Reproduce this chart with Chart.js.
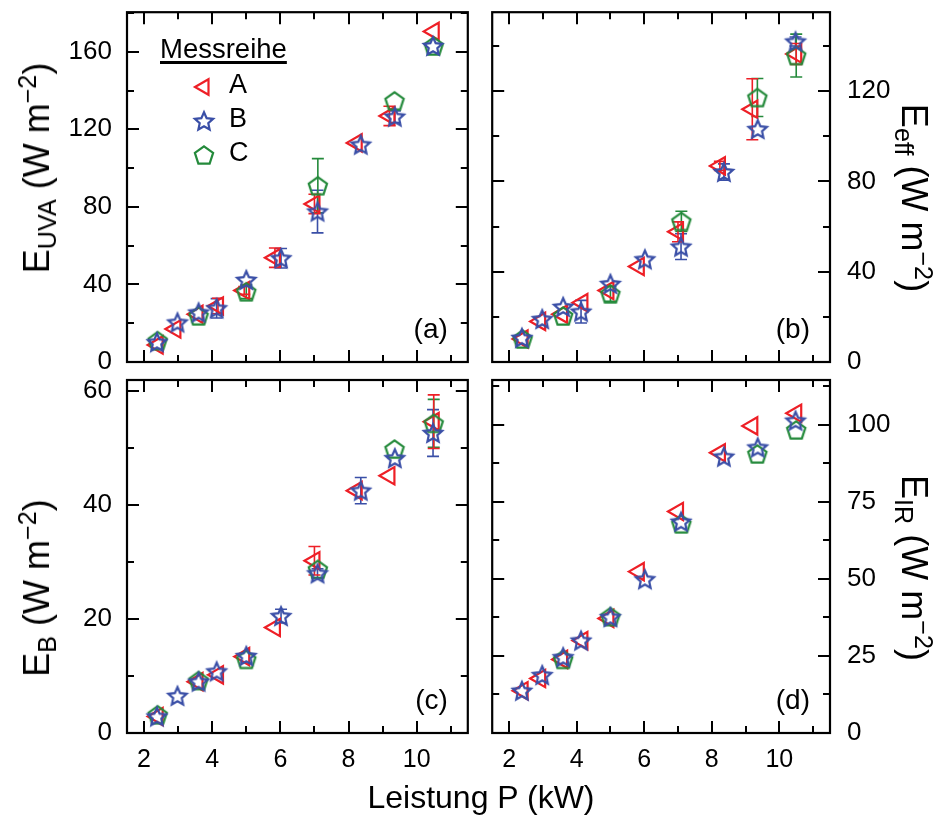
<!DOCTYPE html>
<html>
<head>
<meta charset="utf-8">
<script src="https://cdn.jsdelivr.net/npm/chart.js@4.4.1/dist/chart.umd.min.js"></script>
<style>
html,body{margin:0;padding:0;background:#fff;}
#wrap{position:relative;width:943px;height:825px;overflow:hidden;font-family:'Liberation Sans',Arial,Helvetica,sans-serif;color:#000;}
canvas{position:absolute;}
.yt{position:absolute;white-space:nowrap;font-size:36px;line-height:1;}
.yt sub{font-size:0.7em;vertical-align:-0.28em;line-height:0;}
.yt sup{font-size:0.7em;vertical-align:0.5em;line-height:0;}
.left{transform:translate(-50%,-50%) rotate(-90deg);}
.right{transform:translate(-50%,-50%) rotate(90deg);}
.xt{position:absolute;left:481px;top:781px;transform:translateX(-50%);font-size:32px;line-height:1;white-space:nowrap;}
</style>
</head>
<body>
<div id="wrap">
  <canvas id="cA" width="480" height="376" style="left:0;top:0"></canvas>
  <canvas id="cB" width="463" height="376" style="left:480px;top:0"></canvas>
  <canvas id="cC" width="480" height="434" style="left:0;top:366px"></canvas>
  <canvas id="cD" width="463" height="434" style="left:480px;top:366px"></canvas>
  <div class="yt left" style="left:37px;top:168px">E<sub>UVA</sub> (W m<sup>−2</sup>)</div>
  <div class="yt left" style="left:37px;top:588px">E<sub>B</sub> (W m<sup>−2</sup>)</div>
  <div class="yt right" style="left:914px;top:198px">E<sub>eff</sub> (W m<sup>−2</sup>)</div>
  <div class="yt right" style="left:914px;top:568px">E<sub>IR</sub> (W m<sup>−2</sup>)</div>
  <div class="xt">Leistung P (kW)</div>
</div>
<script>
// ---------- data ----------
const seriesNames = ['A', 'B', 'C'];
const legendTitle = 'Messreihe';

const powerA = [2.40, 2.92, 3.57, 4.17, 4.94, 5.84, 7.00, 8.24, 9.20, 10.50];
const powerB = [2.38, 2.98, 3.60, 4.13, 5.00, 6.02, 7.09, 8.36, 9.36, 10.48];
const powerC = [2.40, 3.60, 5.00, 7.10, 9.35, 10.50];

// (a) E_UVA
const uvaA = [8.8, 17.0, 24.6, 28.9, 36.9, 53.8, 81.5, 113.0, 126.9, 170.5];
const uvaB = [10.2, 20.4, 25.5, 27.7, 42.3, 53.5, 77.6, 112.1, 126.5, 163.0];
const uvaC = [11.0, 23.8, 36.2, 90.9, 134.7, 163.0];
const uvaErrA = [0, 0, 0, 4, 2, 5, 5, 0, 5, 0];
const uvaErrB = [0, 0, 0, 5, 0, 5, 11, 0, 3, 0];
const uvaErrC = [0, 0, 3.5, 14, 0, 0];

// (b) E_eff
const effA = [10.2, 18.0, 21.2, 26.3, 31.7, 42.3, 57.7, 86.9, 112.0, 136.5];
const effB = [10.7, 19.0, 24.4, 22.3, 34.6, 45.5, 51.1, 84.2, 103.2, 142.0];
const effC = [10.2, 20.4, 30.2, 62.3, 117.2, 135.8];
const effErrA = [0, 0, 0, 0, 0, 0, 4.4, 2, 13.5, 4.6];
const effErrB = [0, 0, 0, 5, 0, 0, 5.7, 3.6, 0, 2];
const effErrC = [0, 0, 3.3, 4.5, 8.4, 9.5];

// (c) E_B
const blueA = [2.9, null, 9.0, 10.2, 13.4, 18.5, 30.2, 42.5, 45.1, 54.6];
const blueB = [2.9, 6.5, 9.0, 10.8, 13.5, 20.5, 28.0, 42.5, 48.2, 52.6];
const blueC = [3.2, 9.2, 12.9, 28.7, 49.8, 54.3];
const blueErrA = [0, 0, 0, 0, 0, 0, 2.5, 0, 0, 4.7];
const blueErrB = [0, 0, 0, 0, 0, 1.2, 0.8, 2.3, 0, 4.1];
const blueErrC = [0, 0, 0, 0, 0, 4.2];

// (d) E_IR
const irA = [13.7, 17.7, 23.9, 30.0, 37.2, 52.4, 71.9, 91.0, 99.7, 103.8];
const irB = [13.7, 18.8, 24.6, 30.0, 37.6, 49.9, 68.6, 89.7, 92.7, 101.4];
const irC = [null, 23.9, 37.8, 67.9, 90.6, 98.4];
const zeros10 = [0, 0, 0, 0, 0, 0, 0, 0, 0, 0];
const zeros6 = [0, 0, 0, 0, 0, 0];

// ticks
const powerTicks = [2, 3, 4, 5, 6, 7, 8, 9, 10, 11];
const powerLabels = [2, 4, 6, 8, 10];
const uvaTicks = [0, 20, 40, 60, 80, 100, 120, 140, 160, 180];
const uvaLabels = [0, 40, 80, 120, 160];
const effTicks = [0, 20, 40, 60, 80, 100, 120, 140];
const effLabels = [0, 40, 80, 120];
const blueTicks = [0, 10, 20, 30, 40, 50, 60];
const blueLabels = [0, 20, 40, 60];
const irTicks = [0, 12.5, 25, 37.5, 50, 62.5, 75, 87.5, 100, 112.5];
const irLabels = [0, 25, 50, 75, 100];

// ---------- styling ----------
Chart.defaults.font.family = "'Liberation Sans', Arial, Helvetica, sans-serif";
Chart.defaults.color = '#000';
const RED = '#ee1f26', BLUE = '#3a4fa7', GREEN = '#248a3b';

function starImg() {
  const c = document.createElement('canvas'); c.width = 26; c.height = 26;
  const g = c.getContext('2d');
  g.strokeStyle = BLUE; g.lineWidth = 2.2; g.lineJoin = 'miter';
  g.beginPath();
  for (let i = 0; i < 10; i++) {
    const r = i % 2 ? 4.5 : 9.6;
    const a = -Math.PI / 2 + i * Math.PI / 5;
    const px = 13 + r * Math.cos(a), py = 13.8 + r * Math.sin(a);
    if (i) g.lineTo(px, py); else g.moveTo(px, py);
  }
  g.closePath(); g.stroke();
  return c;
}
function pentaImg() {
  const c = document.createElement('canvas'); c.width = 26; c.height = 26;
  const g = c.getContext('2d');
  g.strokeStyle = GREEN; g.lineWidth = 2.2;
  g.beginPath();
  for (let i = 0; i < 5; i++) {
    const a = -Math.PI / 2 + i * 2 * Math.PI / 5;
    const px = 13 + 9.6 * Math.cos(a), py = 13.9 + 9.6 * Math.sin(a);
    if (i) g.lineTo(px, py); else g.moveTo(px, py);
  }
  g.closePath(); g.stroke();
  return c;
}
const STAR = starImg(), PENTA = pentaImg();

const styleA = { pointStyle: 'triangle', rotation: 270, radius: 10, borderWidth: 2.2, color: RED };
const styleB = { pointStyle: STAR, rotation: 0, radius: 10, borderWidth: 2.2, color: BLUE };
const styleC = { pointStyle: PENTA, rotation: 0, radius: 10, borderWidth: 2.2, color: GREEN };

function pts(xs, ys, es) {
  const out = [];
  xs.forEach((x, i) => { if (ys[i] !== null) out.push({ x: x, y: ys[i], e: es[i] }); });
  return out;
}
function ds(label, data, st) {
  return {
    label: label, data: data, showLine: false,
    pointStyle: st.pointStyle, pointRotation: st.rotation, pointRadius: st.radius,
    pointBorderWidth: st.borderWidth, pointBorderColor: st.color,
    pointBackgroundColor: 'rgba(0,0,0,0)', errColor: st.color, legendStyle: st
  };
}
function sets(a, b, c, ea, eb, ec) {
  // first dataset is drawn on top
  return [
    ds(seriesNames[1], pts(powerB, b, eb), styleB),
    ds(seriesNames[2], pts(powerC, c, ec), styleC),
    ds(seriesNames[0], pts(powerA, a, ea), styleA)
  ];
}

// ---------- plugins ----------
const errorBars = {
  id: 'errorBars',
  beforeDatasetsDraw(chart) {
    const ctx = chart.ctx, xs = chart.scales.x, ys = chart.scales.y;
    ctx.save();
    ctx.lineWidth = 1.6;
    chart.data.datasets.forEach(d => {
      ctx.strokeStyle = d.errColor;
      d.data.forEach(p => {
        if (!p.e) return;
        const px = xs.getPixelForValue(p.x);
        const y1 = ys.getPixelForValue(p.y + p.e), y2 = ys.getPixelForValue(p.y - p.e);
        ctx.beginPath();
        ctx.moveTo(px, y1); ctx.lineTo(px, y2);
        ctx.moveTo(px - 6, y1); ctx.lineTo(px + 6, y1);
        ctx.moveTo(px - 6, y2); ctx.lineTo(px + 6, y2);
        ctx.stroke();
      });
    });
    ctx.restore();
  }
};
const frameTicks = {
  id: 'frameTicks',
  afterDraw(chart, args, opts) {
    const ctx = chart.ctx, a = chart.chartArea, xs = chart.scales.x, ys = chart.scales.y;
    ctx.save();
    ctx.strokeStyle = '#000'; ctx.lineWidth = 2;
    ctx.beginPath();
    xs.ticks.forEach(t => {
      const px = Math.round(xs.getPixelForValue(t.value));
      const len = opts.xMajor.includes(t.value) ? 12 : 7;
      ctx.moveTo(px, a.bottom); ctx.lineTo(px, a.bottom - len);
      ctx.moveTo(px, a.top); ctx.lineTo(px, a.top + len);
    });
    ys.ticks.forEach(t => {
      const py = Math.round(ys.getPixelForValue(t.value));
      const len = opts.yMajor.includes(t.value) ? 12 : 7;
      ctx.moveTo(a.left, py); ctx.lineTo(a.left + len, py);
      ctx.moveTo(a.right, py); ctx.lineTo(a.right - len, py);
    });
    ctx.stroke();
    ctx.lineWidth = 2.2;
    ctx.strokeRect(a.left, a.top, a.right - a.left, a.bottom - a.top);
    ctx.restore();
  }
};
const panelTag = {
  id: 'panelTag',
  afterDraw(chart, args, opts) {
    const ctx = chart.ctx, a = chart.chartArea;
    ctx.save();
    ctx.font = "28px 'Liberation Sans', Arial, sans-serif";
    ctx.fillStyle = '#000'; ctx.textAlign = 'right'; ctx.textBaseline = 'alphabetic';
    ctx.fillText(opts.text, a.right - 20, a.bottom - 24);
    ctx.restore();
  }
};
const messLegend = {
  id: 'messLegend',
  afterDraw(chart, args, opts) {
    if (!opts.show) return;
    const ctx = chart.ctx;
    ctx.save();
    ctx.fillStyle = '#000';
    ctx.font = "27.5px 'Liberation Sans', Arial, sans-serif";
    ctx.textAlign = 'left'; ctx.textBaseline = 'alphabetic';
    ctx.fillText(legendTitle, 160, 58);
    const w = ctx.measureText(legendTitle).width;
    ctx.fillRect(160, 61, w, 3);
    ctx.font = "27px 'Liberation Sans', Arial, sans-serif";
    const order = [2, 0, 1]; // A, B, C
    order.forEach((di, k) => {
      const d = chart.data.datasets[di];
      const st = d.legendStyle;
      const y = 87 + k * 34;
      ctx.strokeStyle = st.color; ctx.lineWidth = st.borderWidth;
      ctx.fillStyle = 'rgba(0,0,0,0)';
      Chart.helpers.drawPoint(ctx, { pointStyle: st.pointStyle, rotation: st.rotation, radius: 9, borderWidth: st.borderWidth }, 204, y);
      ctx.fillStyle = '#000';
      ctx.textBaseline = 'middle';
      ctx.fillText(d.label, 229, y - 1);
    });
    ctx.restore();
  }
};

function panel(id, cfg) {
  return new Chart(document.getElementById(id), {
    type: 'scatter',
    data: { datasets: cfg.datasets },
    options: {
      responsive: false, animation: false, events: [],
      layout: { padding: cfg.padding },
      plugins: {
        legend: { display: false }, tooltip: { enabled: false },
        panelTag: { text: cfg.tag },
        messLegend: { show: !!cfg.legend },
        frameTicks: { xMajor: powerLabels, yMajor: cfg.yLabels }
      },
      scales: {
        x: {
          type: 'linear', position: 'bottom', min: 1.5, max: 11.5,
          afterBuildTicks: s => { s.ticks = powerTicks.map(v => ({ value: v })); },
          afterFit: s => { s.height = cfg.xHeight; s.paddingLeft = 0; s.paddingRight = 0; s.paddingTop = 0; s.paddingBottom = 0; },
          grid: { display: false, drawTicks: false }, border: { display: false },
          ticks: {
            display: cfg.showX, autoSkip: false, maxRotation: 0, minRotation: 0, padding: 12,
            font: { size: 25 },
            callback: v => powerLabels.includes(v) ? String(v) : ''
          }
        },
        y: {
          type: 'linear', position: cfg.yPos, min: 0, max: cfg.yMax,
          afterBuildTicks: s => { s.ticks = cfg.yTicks.map(v => ({ value: v })); },
          afterFit: s => { s.width = cfg.yWidth; s.paddingLeft = 0; s.paddingRight = 0; s.paddingTop = 0; s.paddingBottom = 0; },
          grid: { display: false, drawTicks: false }, border: { display: false },
          ticks: {
            autoSkip: false, padding: cfg.yPad, font: { size: 26 },
            callback: v => cfg.yLabels.includes(v) ? String(v) : ''
          }
        }
      }
    },
    plugins: [errorBars, frameTicks, panelTag, messLegend]
  });
}

panel('cA', {
  datasets: sets(uvaA, uvaB, uvaC, uvaErrA, uvaErrB, uvaErrC),
  padding: { left: 0, top: 8, right: 10, bottom: 14 },
  xHeight: 0, showX: false, yPos: 'left', yWidth: 127, yPad: 15, yMax: 180.4,
  yTicks: uvaTicks, yLabels: uvaLabels, tag: '(a)', legend: true
});
panel('cB', {
  datasets: sets(effA, effB, effC, effErrA, effErrB, effErrC),
  padding: { left: 7, top: 8, right: 0, bottom: 14 },
  xHeight: 0, showX: false, yPos: 'right', yWidth: 113, yPad: 17, yMax: 155,
  yTicks: effTicks, yLabels: effLabels, tag: '(b)'
});
panel('cC', {
  datasets: sets(blueA, blueB, blueC, blueErrA, blueErrB, blueErrC),
  padding: { left: 0, top: 14, right: 10, bottom: 0 },
  xHeight: 67, showX: true, yPos: 'left', yWidth: 127, yPad: 15, yMax: 61.9,
  yTicks: blueTicks, yLabels: blueLabels, tag: '(c)'
});
panel('cD', {
  datasets: sets(irA, irB, irC, zeros10, zeros10, zeros6),
  padding: { left: 7, top: 14, right: 0, bottom: 0 },
  xHeight: 67, showX: true, yPos: 'right', yWidth: 113, yPad: 17, yMax: 114.6,
  yTicks: irTicks, yLabels: irLabels, tag: '(d)'
});
</script>
</body>
</html>
